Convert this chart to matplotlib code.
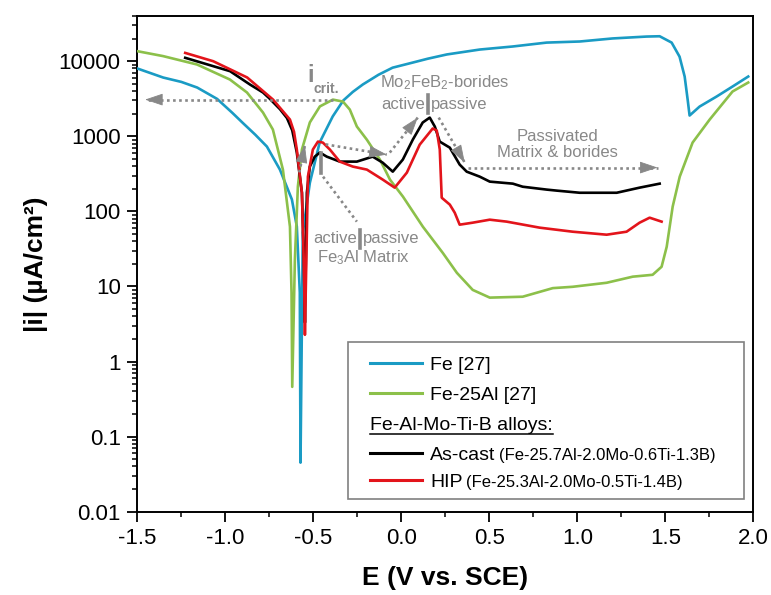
import numpy as np
import matplotlib
matplotlib.use("Agg")
import matplotlib.pyplot as plt
from matplotlib.ticker import LogLocator, FuncFormatter, MultipleLocator, FormatStrFormatter
from matplotlib.patches import Rectangle

plt.rcParams['font.family'] = ['Liberation Sans', 'DejaVu Sans']
plt.rcParams['mathtext.fontset'] = 'custom'
plt.rcParams['mathtext.rm'] = 'Liberation Sans'
plt.rcParams['mathtext.it'] = 'Liberation Sans:italic'
plt.rcParams['mathtext.bf'] = 'Liberation Sans:bold'

# ---------------- data ----------------
fe_E = [-1.50, -1.353, -1.250, -1.160, -1.047, -0.960, -0.900, -0.830, -0.764, -0.690, -0.622,
        -0.594, -0.577, -0.573, -0.560, -0.520, -0.464, -0.390, -0.330, -0.276, -0.219,
        -0.130, -0.050, 0.065, 0.150, 0.258, 0.445, 0.632, 0.825,
        1.013, 1.200, 1.393, 1.467, 1.535, 1.580, 1.609, 1.626, 1.637, 1.694, 1.790, 1.881, 1.970]
fe_i = [8000, 6060, 5300, 4460, 3150, 2050, 1500, 1050, 730, 360, 144,
        63, 8.3, 0.045, 52, 240, 830, 1840, 3000, 3900, 4900,
        6600, 8200, 9600, 10800, 12300, 14300, 15700, 17700,
        18300, 20100, 21300, 21500, 17700, 11500, 6250, 3080, 1890, 2490, 3380, 4600, 6250]

feal_E = [-1.50, -1.354, -1.161, -0.974, -0.877, -0.786, -0.730, -0.673, -0.633, -0.624, -0.620,
          -0.605, -0.588, -0.565, -0.520, -0.463, -0.389, -0.332, -0.293, -0.253, -0.196, -0.122,
          -0.065, 0.009, 0.122, 0.235, 0.315, 0.405, 0.502, 0.689, 0.860, 0.973, 1.166, 1.314,
          1.427, 1.478, 1.507, 1.541, 1.581, 1.654, 1.751, 1.881, 1.970]
feal_i = [13600, 11700, 9040, 5700, 3830, 2070, 1230, 360, 62.5, 8.2, 0.46,
          22.7, 214, 667, 1530, 2500, 3080, 2900, 2270, 1350, 900, 490,
          265, 157, 62.5, 28, 15.2, 9.0, 7.1, 7.3, 9.5, 9.9, 11.2, 13.5,
          14.3, 18.3, 33.8, 116, 290, 824, 1670, 3950, 5200]

cast_E = [-1.228, -0.973, -0.860, -0.786, -0.750, -0.690, -0.650, -0.620, -0.594, -0.565, -0.554,
          -0.548, -0.537, -0.520, -0.492, -0.463, -0.424, -0.350, -0.253, -0.163, -0.106, -0.049,
          0.008, 0.065, 0.121, 0.161, 0.190, 0.218, 0.275, 0.331, 0.371, 0.445, 0.502,
          0.633, 0.689, 0.825, 0.882, 1.013, 1.223, 1.353, 1.467]
cast_i = [11100, 7360, 4890, 3830, 3200, 2300, 1750, 1200, 607, 177, 22.7,
          3.3, 177, 395, 536, 607, 536, 460, 460, 536, 445, 338,
          489, 904, 1525, 1775, 1345, 849, 706, 420, 338, 290, 249,
          234, 213, 195, 189, 177, 177, 207, 234]

hip_E = [-1.228, -1.069, -0.876, -0.729, -0.633, -0.610, -0.594, -0.565, -0.554, -0.548, -0.531,
         -0.503, -0.474, -0.446, -0.406, -0.350, -0.276, -0.196, -0.106, -0.038, 0.031,
         0.104, 0.178, 0.201, 0.218, 0.229, 0.275, 0.303, 0.331, 0.405, 0.502, 0.598,
         0.785, 0.973, 1.166, 1.279, 1.353, 1.410, 1.478]
hip_i = [12900, 10000, 6070, 3080, 1670, 1150, 665, 177, 19.5, 2.27, 290,
         665, 850, 824, 665, 460, 395, 360, 265, 207, 328,
         774, 1270, 1190, 665, 152, 123, 96, 66.5, 70.7, 77.5, 73,
         60.7, 53.6, 48.9, 53.6, 70.7, 82.4, 73]

x_ticks = [-1.5, -1.0, -0.5, 0.0, 0.5, 1.0, 1.5, 2.0]
y_ticks = [0.01, 0.1, 1, 10, 100, 1000, 10000]

C_FE = '#1a9bc4'
C_FEAL = '#8cc04a'
C_CAST = '#000000'
C_HIP = '#e3141b'
GRAY = '#888888'

# ---------------- figure ----------------
fig = plt.figure(figsize=(7.71, 5.95), dpi=100)
ax = fig.add_axes([0.1781, 0.1400, 0.7992, 0.8331])

lw = 1.9
ax.plot(fe_E, fe_i, color=C_FE, lw=lw, zorder=3)
ax.plot(feal_E, feal_i, color=C_FEAL, lw=lw, zorder=3)
ax.plot(cast_E, cast_i, color=C_CAST, lw=lw, zorder=4)
ax.plot(hip_E, hip_i, color=C_HIP, lw=lw, zorder=4)

ax.set_yscale('log')
ax.set_xlim(-1.5, 2.0)
ax.set_ylim(0.01, 4e4)
ax.set_xticks(x_ticks)
ax.xaxis.set_minor_locator(MultipleLocator(0.25))
ax.xaxis.set_major_formatter(FormatStrFormatter('%.1f'))
ax.set_yticks(y_ticks)
ax.yaxis.set_minor_locator(LogLocator(base=10, subs=range(2, 10), numticks=20))
ax.yaxis.set_major_formatter(FuncFormatter(lambda v, p: f'{v:g}'))
ax.tick_params(which='major', direction='out', length=7, width=1.3, labelsize=16, pad=5)
ax.tick_params(which='minor', direction='out', length=3.5, width=1.1)
ax.tick_params(top=False, right=False, which='both')
for s in ax.spines.values():
    s.set_linewidth(1.4)

ax.set_xlabel('E (V vs. SCE)', fontsize=19, fontweight='bold', labelpad=12)
ax.set_ylabel('|i| (µA/cm²)', fontsize=19, fontweight='bold', labelpad=8)

# ---------------- annotations ----------------
def arrow(E0, i0, E1, i1, head=True):
    ax.plot([E0, E1], [i0, i1], color=GRAY, lw=1.9, ls=(0, (1, 1.3)), zorder=6)
    if head:
        f = 0.05
        Es = E1 - (E1 - E0) * f
        Is = 10 ** (np.log10(i1) - (np.log10(i1) - np.log10(i0)) * f)
        ax.annotate('', xy=(E1, i1), xytext=(Es, Is),
                    arrowprops=dict(arrowstyle='-|>,head_length=0.95,head_width=0.32',
                                    color=GRAY, lw=0.6, shrinkA=0, shrinkB=0,
                                    mutation_scale=12), zorder=6)

arrow(-0.389, 3080, -1.456, 3080)          # i_crit
arrow(-0.066, 607, 0.093, 1775)            # borides active
arrow(0.212, 1775, 0.360, 445)             # borides passive
arrow(0.377, 383, 1.455, 383)              # passivated
arrow(-0.580, 330, -0.548, 760)            # Fe3Al up
arrow(-0.43, 780, -0.083, 570)             # Fe3Al right
arrow(-0.445, 290, -0.253, 73, head=False) # Fe3Al leader

ax.plot([-0.457, -0.457], [328, 607], color=GRAY, lw=2.6, zorder=6)

ax.text(-0.515, 6500, 'i', fontsize=17, fontweight='bold', color=GRAY, ha='center', va='center')
ax.text(-0.500, 4300, 'crit.', fontsize=10, fontweight='bold', color=GRAY, ha='left', va='center')

fs_ann = 12
ax.text(0.248, 5200, 'Mo$_2$FeB$_2$-borides', fontsize=fs_ann, color=GRAY, ha='center', va='center')
ax.plot([0.150, 0.150], [2070, 3600], color=GRAY, lw=2.6, zorder=6)
ax.annotate('active', xy=(0.150, 2650), xytext=(-2, 0), textcoords='offset points',
            fontsize=fs_ann, color=GRAY, ha='right', va='center')
ax.annotate('passive', xy=(0.150, 2650), xytext=(2.5, 0), textcoords='offset points',
            fontsize=fs_ann, color=GRAY, ha='left', va='center')

ax.text(0.888, 990, 'Passivated', fontsize=fs_ann, color=GRAY, ha='center', va='center')
ax.text(0.888, 607, 'Matrix & borides', fontsize=fs_ann, color=GRAY, ha='center', va='center')

ax.plot([-0.236, -0.236], [32.8, 57], color=GRAY, lw=2.6, zorder=6)
ax.annotate('active', xy=(-0.236, 44), xytext=(-2, 0), textcoords='offset points',
            fontsize=fs_ann, color=GRAY, ha='right', va='center')
ax.annotate('passive', xy=(-0.236, 44), xytext=(2.5, 0), textcoords='offset points',
            fontsize=fs_ann, color=GRAY, ha='left', va='center')
ax.text(-0.213, 24.1, 'Fe$_3$Al Matrix', fontsize=fs_ann, color=GRAY, ha='center', va='center')

# ---------------- legend (drawn manually) ----------------
ax.add_patch(Rectangle((0.342, 0.026), 0.642, 0.316, transform=ax.transAxes,
                       fc='white', ec='#808080', lw=1.2, zorder=7))
rows = [0.300, 0.239, 0.179, 0.118, 0.064]
hx0, hx1, tx = 0.378, 0.462, 0.475
base_off = 0.014
fig.canvas.draw()
renderer = fig.canvas.get_renderer()
inv = ax.transAxes.inverted()

def legend_row(y, color, main, extra=None, x=tx):
    if color is not None:
        ax.plot([hx0, hx1], [y, y], transform=ax.transAxes, color=color, lw=2.2,
                zorder=8, clip_on=False)
    t = ax.text(x, y - base_off, main, transform=ax.transAxes, fontsize=14,
                va='baseline', ha='left', zorder=8)
    bb = t.get_window_extent(renderer)
    (x0, _), (x1, _) = inv.transform([[bb.x0, bb.y0], [bb.x1, bb.y1]])
    if extra is not None:
        ax.text(x1 + 0.006, y - base_off, extra, transform=ax.transAxes, fontsize=12,
                va='baseline', ha='left', zorder=8)
    return x0, x1

legend_row(rows[0], C_FE, 'Fe [27]')
legend_row(rows[1], C_FEAL, 'Fe-25Al [27]')
ux0, ux1 = legend_row(rows[2], None, 'Fe-Al-Mo-Ti-B alloys:', x=hx0)
ax.plot([ux0, ux1], [rows[2] - base_off - 0.008] * 2, transform=ax.transAxes,
        color='black', lw=1.1, zorder=8)
legend_row(rows[3], C_CAST, 'As-cast', '(Fe-25.7Al-2.0Mo-0.6Ti-1.3B)')
legend_row(rows[4], C_HIP, 'HIP', '(Fe-25.3Al-2.0Mo-0.5Ti-1.4B)')

fig.savefig('out.png', dpi=100)
